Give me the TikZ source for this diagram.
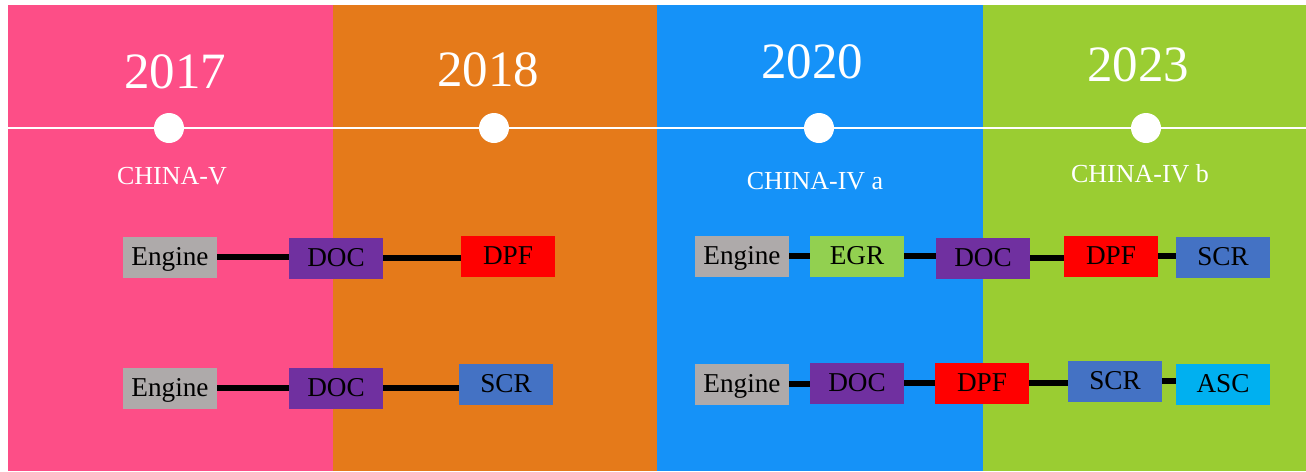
\documentclass[tikz,border=0pt]{standalone}
\usepackage{fontspec}
\setmainfont{Liberation Serif}
\usetikzlibrary{positioning}
\definecolor{bandpink}{HTML}{FD4E87}
\definecolor{bandorange}{HTML}{E57A1A}
\definecolor{bandblue}{HTML}{1592F8}
\definecolor{bandgreen}{HTML}{9ACD32}
\definecolor{engray}{HTML}{AEAAAA}
\definecolor{docpurple}{HTML}{7030A0}
\definecolor{dpfred}{HTML}{FF0000}
\definecolor{scrblue}{HTML}{4472C4}
\definecolor{egrgreen}{HTML}{92D050}
\definecolor{ascblue}{HTML}{00B0F0}
\tikzset{unitbox/.style={rectangle,draw=none,text=black,
inner sep=2pt,minimum height=0.82cm, minimum width=1.88cm,
text height=10.2pt,text depth=0pt,font=\fontsize{15.5}{18}\selectfont}}
\tikzset{yearlabel/.style={text=white,inner sep=0pt,font=\fontsize{29}{34}\selectfont}}
\tikzset{stdlabel/.style={text=white,inner sep=0pt,font=\fontsize{14.8}{17}\selectfont}}
\tikzset{milestone/.style={circle,fill=white,draw=none,inner sep=0pt,minimum size=0.6cm}}
\tikzset{pipe/.style={line width=3.6pt,black}}

\begin{document}
\begin{tikzpicture}[x=0.02cm,y=-0.02cm]

    \useasboundingbox (0,0) rectangle (1306,471);
    \fill[white] (0,0) rectangle (1306,471);

    % colour bands
    \fill[bandpink] (8,5) rectangle (333,471);
    \fill[bandorange] (333,5) rectangle (657,471);
    \fill[bandblue] (657,5) rectangle (983,471);
    \fill[bandgreen] (983,5) rectangle (1306,471);

    % time line
    \coordinate (lineL) at (8,128);
    \coordinate (lineR) at (1306,128);
    \draw[white,line width=0.9pt] (lineL) -- (lineR);

    \node[milestone] (dotA) at (169,128) {};
    \node[milestone] (dotB) at (494,128) {};
    \node[milestone] (dotC) at (819,128) {};
    \node[milestone] (dotD) at (1146,128) {};

    \node[yearlabel] (yearA) at (175,72) {2017};
    \node[yearlabel] (yearB) at (488,70) {2018};
    \node[yearlabel] (yearC) at (812,62) {2020};
    \node[yearlabel] (yearD) at (1138,65) {2023};

    \node[stdlabel] (stdA) at (172,176) {CHINA-V};
    \node[stdlabel] (stdC) at (815,181) {CHINA-IV a};
    \node[stdlabel] (stdD) at (1140,174) {CHINA-IV b};

    % left routes
    \node[unitbox,fill=engray] (boxA) at (170,257) {Engine};
    \node[unitbox,fill=docpurple] (boxB) at (336,258) {DOC};
    \node[unitbox,fill=dpfred] (boxC) at (508,256) {DPF};
    \draw[pipe] (boxA.east) -- (boxA.east -| boxB.west);
    \draw[pipe] (boxB.east) -- (boxB.east -| boxC.west);

    \node[unitbox,fill=engray] (boxArev) at (170,388) {Engine};
    \node[unitbox,fill=docpurple] (boxBrev) at (336,388) {DOC};
    \node[unitbox,fill=scrblue] (boxCrev) at (506,384) {SCR};
    \draw[pipe] (boxArev.east) -- (boxArev.east -| boxBrev.west);
    \draw[pipe] (boxBrev.east) -- (boxBrev.east -| boxCrev.west);

    % right routes
    \node[unitbox,fill=engray] (boxD) at (742,256) {Engine};
    \node[unitbox,fill=egrgreen] (boxE) at (857,256) {EGR};
    \node[unitbox,fill=docpurple] (boxF) at (983,258) {DOC};
    \node[unitbox,fill=dpfred] (boxG) at (1111,256) {DPF};
    \node[unitbox,fill=scrblue] (boxH) at (1223,257) {SCR};
    \draw[pipe] (boxD.east) -- (boxD.east -| boxE.west);
    \draw[pipe] (boxE.east) -- (boxE.east -| boxF.west);
    \draw[pipe] (boxF.east) -- (boxF.east -| boxG.west);
    \draw[pipe] (boxG.east) -- (boxG.east -| boxH.west);

    \node[unitbox,fill=engray] (boxDrev) at (742,384) {Engine};
    \node[unitbox,fill=docpurple] (boxErev) at (857,383) {DOC};
    \node[unitbox,fill=dpfred] (boxFrev) at (982,383) {DPF};
    \node[unitbox,fill=scrblue] (boxGrev) at (1115,381) {SCR};
    \node[unitbox,fill=ascblue] (boxHrev) at (1223,384) {ASC};
    \draw[pipe] (boxDrev.east) -- (boxDrev.east -| boxErev.west);
    \draw[pipe] (boxErev.east) -- (boxErev.east -| boxFrev.west);
    \draw[pipe] (boxFrev.east) -- (boxFrev.east -| boxGrev.west);
    \draw[pipe] (boxGrev.east) -- (boxGrev.east -| boxHrev.west);

\end{tikzpicture}
\end{document}
